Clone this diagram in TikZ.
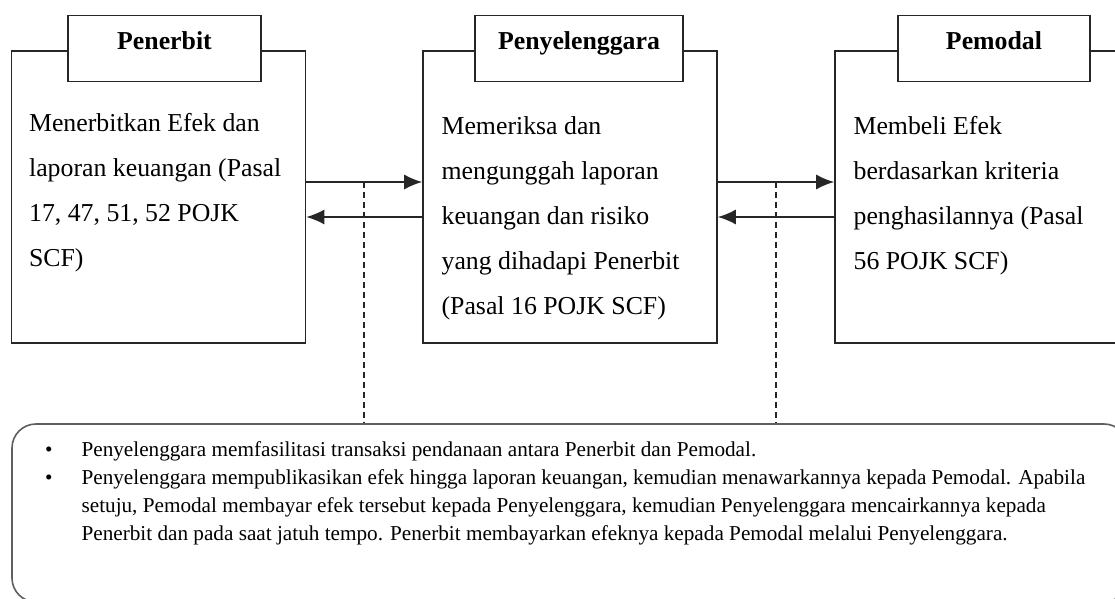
\documentclass[tikz,border=0pt]{standalone}
\usepackage{fontspec}
\setmainfont{Liberation Serif}
\usetikzlibrary{arrows.meta,positioning,calc}
\definecolor{ink}{RGB}{38, 38, 38}
\definecolor{frame}{RGB}{95, 95, 95}
\tikzstyle{party} = [rectangle, draw=ink, line width=0.8pt, minimum width=147pt, minimum height=146pt, inner sep=0pt]
\tikzstyle{tab} = [rectangle, draw=ink, line width=0.8pt, fill=white, minimum height=33pt, inner sep=0pt, text height=5.5pt, text depth=4.5pt, font=\bfseries\fontsize{12.9}{15}\selectfont]
\tikzstyle{desc} = [align=left, inner sep=0pt, font=\fontsize{12.9}{22.5}\selectfont]
\tikzstyle{tedge} = [draw=ink, line width=0.8pt, -{Latex[length=9pt,width=7.5pt]}]
\tikzstyle{link} = [draw=ink, line width=0.8pt, dash pattern=on 3pt off 2pt]
\tikzstyle{board} = [rectangle, draw=frame, line width=0.8pt, rounded corners=12pt, minimum width=558pt, minimum height=89pt, inner sep=0pt]
\tikzstyle{points} = [align=left, inner sep=0pt, font=\fontsize{10.6}{14}\selectfont]

\begin{document}
\begin{tikzpicture}[x=0.5pt, y=-0.5pt]
\clip (0,0) rectangle (1115,599);

% parties =============================
\node[party] (pen) at (158.5,197) {};
\node[party] (pyl) at (570,197) {};
\node[party] (pmd) at (982,197) {};

\node[tab, minimum width=96.5pt, above=-16pt of pen.north, xshift=3pt] (pen-t) {Penerbit};
\node[tab, minimum width=104pt, above=-16pt of pyl.north, xshift=4.5pt] (pyl-t) {Penyelenggara};
\node[tab, minimum width=96pt, above=-16pt of pmd.north, xshift=6pt] (pmd-t) {Pemodal};

\node[desc, below right=31.5pt and 9pt of pen.north west] (pen-d) {Menerbitkan Efek dan\\laporan keuangan (Pasal\\17, 47, 51, 52 POJK\\SCF)};
\node[desc, below right=33pt and 9.5pt of pyl.north west] (pyl-d) {Memeriksa dan\\mengunggah laporan\\keuangan dan risiko\\yang dihadapi Penerbit\\(Pasal 16 POJK SCF)};
\node[desc, below right=33pt and 9.5pt of pmd.north west] (pmd-d) {Membeli Efek\\berdasarkan kriteria\\penghasilannya (Pasal\\56 POJK SCF)};

% flows
\path[tedge] ([yshift=7.5pt]pen.east) -- ([yshift=7.5pt]pyl.west);
\path[tedge] ([yshift=-10pt]pyl.west) -- ([yshift=-10pt]pen.east);
\path[tedge] ([yshift=7.5pt]pyl.east) -- ([yshift=7.5pt]pmd.west);
\path[tedge] ([yshift=-10pt]pmd.west) -- ([yshift=-10pt]pyl.east);

% notes =============================
\node[board] (notes) at (570,513) {};
\node[points, below right=9pt and 35pt of notes.north west] (notes-t) {%
\llap{\textbullet\hspace{14.5pt}}Penyelenggara memfasilitasi transaksi pendanaan antara Penerbit dan Pemodal.\\
\llap{\textbullet\hspace{14.5pt}}Penyelenggara mempublikasikan efek hingga laporan keuangan, kemudian menawarkannya kepada Pemodal. Apabila\\
setuju, Pemodal membayar efek tersebut kepada Penyelenggara, kemudian Penyelenggara mencairkannya kepada\\
Penerbit dan pada saat jatuh tempo. Penerbit membayarkan efeknya kepada Pemodal melalui Penyelenggara.};

\coordinate (m1) at ($([yshift=7.5pt]pen.east)!0.5!([yshift=7.5pt]pyl.west)$);
\coordinate (m2) at ($([yshift=7.5pt]pyl.east)!0.5!([yshift=7.5pt]pmd.west)$);
\path[link] (m1) -- (m1 |- notes.north);
\path[link] (m2) -- (m2 |- notes.north);

\end{tikzpicture}
\end{document}
